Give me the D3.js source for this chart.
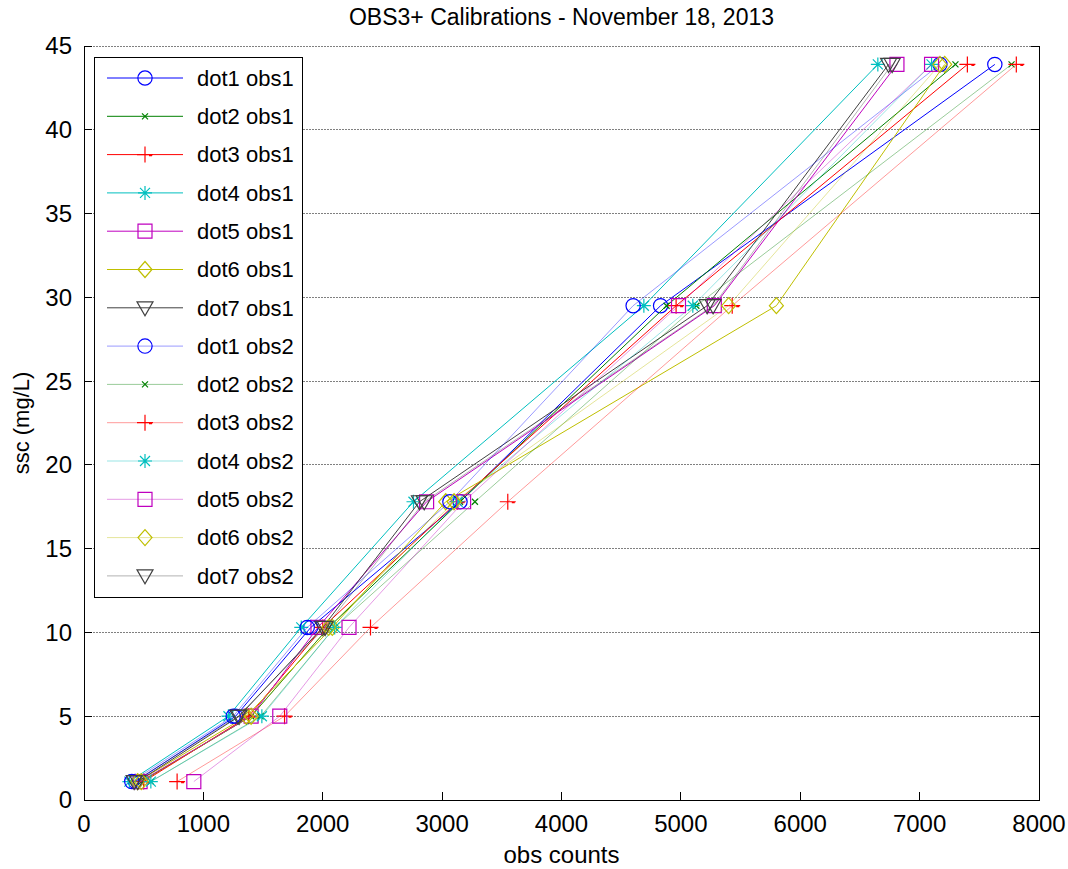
<!DOCTYPE html>
<html>
<head>
<meta charset="utf-8">
<script src="https://cdn.jsdelivr.net/npm/d3@7"></script>
<style>
  body { margin: 0; background: #fff; }
  text { font-family: "Liberation Sans", "DejaVu Sans", sans-serif; fill: #000; }
</style>
</head>
<body>
<div id="chart"></div>
<script>
// SSC levels used for the calibration (mg/L)
const sscLevels = [1.1, 5.0, 10.3, 17.8, 29.5, 43.9]

const seriesNames = [
  "dot1 obs1", "dot2 obs1", "dot3 obs1", "dot4 obs1", "dot5 obs1", "dot6 obs1", "dot7 obs1",
  "dot1 obs2", "dot2 obs2", "dot3 obs2", "dot4 obs2", "dot5 obs2", "dot6 obs2", "dot7 obs2"
]

// obs counts at each ssc level, one array per sensor/dot
const dot1obs1 = [430, 1270, 1900, 3150, 4830, 7630]
const dot2obs1 = [480, 1400, 2050, 3150, 4880, 7300]
const dot3obs1 = [500, 1380, 2000, 3130, 4960, 7400]
const dot4obs1 = [380, 1210, 1820, 2760, 4690, 6650]
const dot5obs1 = [470, 1400, 1960, 2870, 5280, 6810]
const dot6obs1 = [450, 1360, 2080, 3030, 5800, 7210]
const dot7obs1 = [450, 1300, 2000, 2810, 5220, 6740]
const dot1obs2 = [400, 1250, 1870, 3065, 4600, 7170]
const dot2obs2 = [560, 1480, 2100, 3275, 5130, 7770]
const dot3obs2 = [780, 1680, 2400, 3550, 5430, 7810]
const dot4obs2 = [560, 1490, 2100, 3130, 5100, 7100]
const dot5obs2 = [920, 1640, 2220, 3180, 4980, 7100]
const dot6obs2 = [480, 1400, 2050, 3100, 5400, 7170]
const dot7obs2 = [420, 1290, 2020, 2850, 5270, 6770]

const seriesValues = [
  dot1obs1, dot2obs1, dot3obs1, dot4obs1, dot5obs1, dot6obs1, dot7obs1,
  dot1obs2, dot2obs2, dot3obs2, dot4obs2, dot5obs2, dot6obs2, dot7obs2
]

const xTicks = [0, 1000, 2000, 3000, 4000, 5000, 6000, 7000, 8000]
const yTicks = [0, 5, 10, 15, 20, 25, 30, 35, 40, 45]

const dotColors = ["#0000ff", "#008000", "#ff0000", "#00bfbf", "#bf00bf", "#bfbf00", "#404040"]
const dotMarkers = ["circle", "x", "plus", "star", "square", "diamond", "triangle"]

const width = 1068, height = 869
const margin = { top: 46, right: 29, bottom: 69, left: 84 }
const innerW = width - margin.left - margin.right
const innerH = height - margin.top - margin.bottom

const svg = d3.select("#chart").append("svg")
  .attr("width", width).attr("height", height)

const x = d3.scaleLinear().domain([0, 8000]).range([0, innerW])
const y = d3.scaleLinear().domain([0, 45]).range([innerH, 0])

const g = svg.append("g").attr("transform", `translate(${margin.left},${margin.top})`)

// horizontal grid
g.append("g").selectAll("line").data(yTicks).join("line")
  .attr("x1", 0).attr("x2", innerW)
  .attr("y1", d => y(d)).attr("y2", d => y(d))
  .attr("stroke", "#808080").attr("stroke-width", 1).attr("stroke-dasharray", "2,1")
  .attr("shape-rendering", "crispEdges")

// marker shapes drawn around (0,0)
function markerPath(kind) {
  switch (kind) {
    case "circle": return d3.symbol(d3.symbolCircle, 160)()
    case "x": return "M-3,-3L3,3M-3,3L3,-3"
    case "plus": return "M-8,0L8,0M0,-8L0,8M4,1L7,1"
    case "star": return "M-7,0L7,0M0,-7L0,7M-5,-5L5,5M-5,5L5,-5"
    case "square": return "M-7,-7L7,-7L7,7L-7,7Z"
    case "diamond": return "M0,-8L7,0L0,8L-7,0Z"
    case "triangle": return "M-8,-6L8,-6L0,8Z"
  }
}

seriesValues.forEach((vals, i) => {
  const d = i % 7
  const obs2 = i >= 7
  const color = dotColors[d]
  const pts = vals.map((v, k) => [x(v), y(sscLevels[k])])
  g.append("path")
    .attr("d", d3.line()(pts))
    .attr("fill", "none")
    .attr("stroke", color)
    .attr("stroke-opacity", obs2 ? 0.4 : 1)
    .attr("stroke-width", 1)
  g.append("g").selectAll("path").data(pts).join("path")
    .attr("transform", p => `translate(${p[0]},${p[1]})`)
    .attr("d", markerPath(dotMarkers[d]))
    .attr("fill", "none")
    .attr("stroke", color)
    .attr("stroke-width", 1.2)
})

// axes box: left, bottom, right in black
g.append("path")
  .attr("d", `M0,0V${innerH}H${innerW}V0`)
  .attr("fill", "none").attr("stroke", "#000").attr("stroke-width", 1)
  .attr("shape-rendering", "crispEdges")

// inward ticks
g.append("g").selectAll("line").data(xTicks).join("line")
  .attr("x1", d => x(d)).attr("x2", d => x(d))
  .attr("y1", innerH).attr("y2", innerH - 8)
  .attr("stroke", "#000").attr("shape-rendering", "crispEdges")
g.append("g").selectAll("line").data(yTicks).join("line")
  .attr("x1", 0).attr("x2", 8)
  .attr("y1", d => y(d)).attr("y2", d => y(d))
  .attr("stroke", "#000").attr("shape-rendering", "crispEdges")
g.append("g").selectAll("line").data(yTicks).join("line")
  .attr("x1", innerW).attr("x2", innerW - 8)
  .attr("y1", d => y(d)).attr("y2", d => y(d))
  .attr("stroke", "#000").attr("shape-rendering", "crispEdges")

// tick labels
g.append("g").selectAll("text").data(xTicks).join("text")
  .attr("x", d => x(d)).attr("y", innerH + 32)
  .attr("text-anchor", "middle").attr("font-size", "24px")
  .text(d => d)
g.append("g").selectAll("text").data(yTicks).join("text")
  .attr("x", -12).attr("y", d => y(d)).attr("dy", "0.35em")
  .attr("text-anchor", "end").attr("font-size", "24px")
  .text(d => d)

// titles
svg.append("text")
  .attr("x", margin.left + innerW / 2).attr("y", 25)
  .attr("text-anchor", "middle").attr("font-size", "23px")
  .text("OBS3+ Calibrations - November 18, 2013")
svg.append("text")
  .attr("x", margin.left + innerW / 2).attr("y", 863)
  .attr("text-anchor", "middle").attr("font-size", "24px")
  .text("obs counts")
svg.append("text")
  .attr("transform", `translate(29,${margin.top + innerH / 2}) rotate(-90)`)
  .attr("text-anchor", "middle").attr("font-size", "22px")
  .text("ssc (mg/L)")

// legend
const leg = svg.append("g").attr("transform", "translate(94,57)")
leg.append("rect")
  .attr("width", 208).attr("height", 540)
  .attr("fill", "#fff").attr("stroke", "#000").attr("stroke-width", 1)
  .attr("shape-rendering", "crispEdges")
seriesNames.forEach((name, i) => {
  const d = i % 7
  const obs2 = i >= 7
  const row = leg.append("g").attr("transform", `translate(0,${21 + i * 38.3})`)
  row.append("line")
    .attr("x1", 13).attr("x2", 89)
    .attr("stroke", dotColors[d]).attr("stroke-opacity", obs2 ? 0.4 : 1)
  row.append("path")
    .attr("transform", "translate(51,0)")
    .attr("d", markerPath(dotMarkers[d]))
    .attr("fill", "none").attr("stroke", dotColors[d]).attr("stroke-width", 1.2)
  row.append("text")
    .attr("x", 103).attr("dy", "0.35em").attr("font-size", "22px")
    .text(name)
})
</script>
</body>
</html>
